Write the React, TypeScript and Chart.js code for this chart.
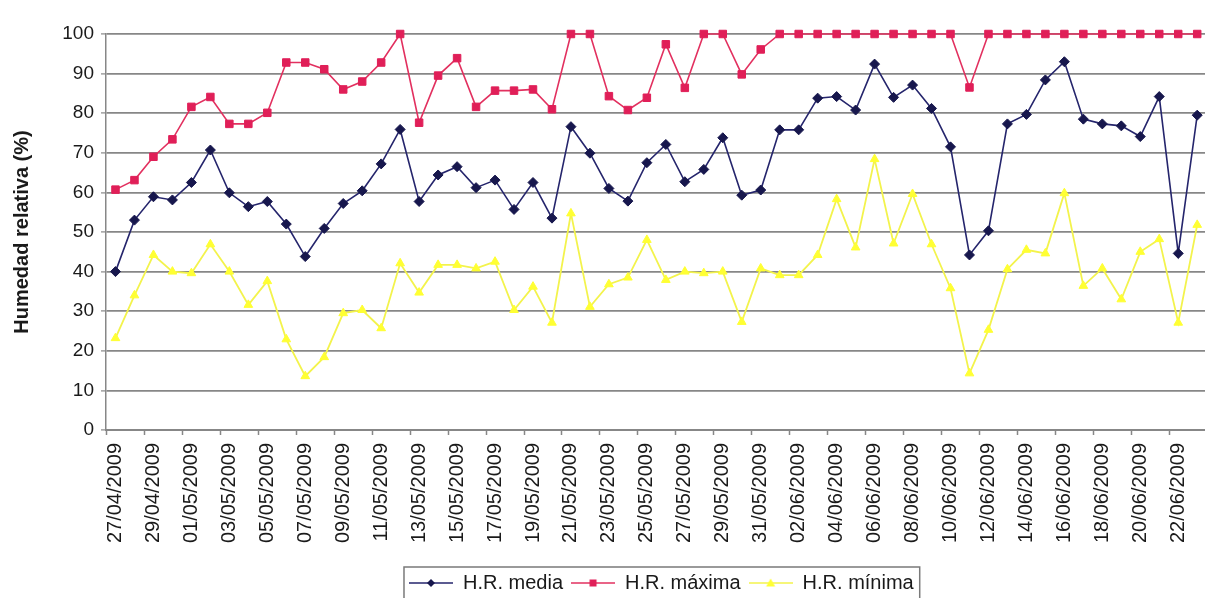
import { useEffect, useRef } from 'react';
import { Chart, registerables } from 'chart.js';

Chart.register(...registerables);

// Daily relative humidity, 27/04/2009 – 23/06/2009
const dates = [
  '27/04/2009', '28/04/2009', '29/04/2009', '30/04/2009',
  '01/05/2009', '02/05/2009', '03/05/2009', '04/05/2009', '05/05/2009', '06/05/2009',
  '07/05/2009', '08/05/2009', '09/05/2009', '10/05/2009', '11/05/2009', '12/05/2009',
  '13/05/2009', '14/05/2009', '15/05/2009', '16/05/2009', '17/05/2009', '18/05/2009',
  '19/05/2009', '20/05/2009', '21/05/2009', '22/05/2009', '23/05/2009', '24/05/2009',
  '25/05/2009', '26/05/2009', '27/05/2009', '28/05/2009', '29/05/2009', '30/05/2009',
  '31/05/2009',
  '01/06/2009', '02/06/2009', '03/06/2009', '04/06/2009', '05/06/2009', '06/06/2009',
  '07/06/2009', '08/06/2009', '09/06/2009', '10/06/2009', '11/06/2009', '12/06/2009',
  '13/06/2009', '14/06/2009', '15/06/2009', '16/06/2009', '17/06/2009', '18/06/2009',
  '19/06/2009', '20/06/2009', '21/06/2009', '22/06/2009', '23/06/2009',
];

const hrMedia = [
  40.0, 53.0, 58.9, 58.1, 62.5, 70.7, 59.9, 56.4, 57.7, 52.0, 43.8, 50.9, 57.2, 60.4, 67.2, 75.9,
  57.7, 64.4, 66.5, 61.2, 63.1, 55.7, 62.5, 53.5, 76.6, 69.9, 61.0, 57.8, 67.5, 72.1, 62.7, 65.8,
  73.8, 59.3, 60.6, 75.8, 75.8, 83.8, 84.2, 80.8, 92.4, 84.0, 87.1, 81.2, 71.5, 44.2, 50.3, 77.3,
  79.7, 88.4, 93.0, 78.5, 77.3, 76.8, 74.1, 84.2, 44.6, 79.5,
];

const hrMaxima = [
  60.7, 63.1, 69.0, 73.4, 81.6, 84.1, 77.3, 77.3, 80.1, 92.8, 92.8, 91.1, 86.0, 88.0, 92.8, 100,
  77.6, 89.5, 93.9, 81.6, 85.7, 85.7, 86.0, 81.0, 100, 100, 84.3, 80.8, 83.9, 97.4, 86.4, 100,
  100, 89.8, 96.1, 100, 100, 100, 100, 100, 100, 100, 100, 100, 100, 86.5, 100, 100,
  100, 100, 100, 100, 100, 100, 100, 100, 100, 100,
];

const hrMinima = [
  23.2, 34.0, 44.2, 40.0, 39.6, 46.9, 40.0, 31.6, 37.6, 22.9, 13.6, 18.4, 29.5, 30.3, 25.7, 42.1,
  34.7, 41.7, 41.7, 40.8, 42.5, 30.3, 36.2, 27.1, 54.7, 31.1, 36.8, 38.5, 48.0, 37.9, 40.0, 39.6,
  40.0, 27.3, 40.8, 39.1, 39.1, 44.2, 58.3, 46.1, 68.4, 47.1, 59.6, 46.9, 35.8, 14.3, 25.3, 40.6,
  45.5, 44.6, 59.8, 36.4, 40.8, 33.0, 45.0, 48.2, 27.1, 51.8,
];

const seriesNames = ['H.R. media', 'H.R. máxima', 'H.R. mínima'];

const FONT = '"Liberation Sans", Arial, Helvetica, sans-serif';
const TEXT = '#1a1a1a';
const GRID = '#878787';

const NAVY_LINE = '#25256c';
const NAVY_PT = '#17174d';
const RED_LINE = '#e2305f';
const RED_PT = '#e01f58';
const YEL_LINE = '#f3f34c';
const YEL_PT = '#ffff33';

type Marker = 'diamond' | 'square' | 'triangle';

// Small line-with-marker swatch used as a legend symbol
function legendIcon(line: string, fill: string, marker: Marker): HTMLCanvasElement {
  const c = document.createElement('canvas');
  c.width = 44;
  c.height = 14;
  const ctx = c.getContext('2d')!;
  const cx = 22;
  const cy = 7;
  ctx.strokeStyle = line;
  ctx.lineWidth = 1.6;
  ctx.beginPath();
  ctx.moveTo(0, cy);
  ctx.lineTo(44, cy);
  ctx.stroke();
  ctx.fillStyle = fill;
  ctx.beginPath();
  if (marker === 'diamond') {
    ctx.moveTo(cx, cy - 4);
    ctx.lineTo(cx + 4, cy);
    ctx.lineTo(cx, cy + 4);
    ctx.lineTo(cx - 4, cy);
    ctx.closePath();
  } else if (marker === 'square') {
    ctx.rect(cx - 3.5, cy - 3.5, 7, 7);
  } else {
    ctx.moveTo(cx, cy - 4.5);
    ctx.lineTo(cx + 4.5, cy + 3.5);
    ctx.lineTo(cx - 4.5, cy + 3.5);
    ctx.closePath();
  }
  ctx.fill();
  return c;
}

// Nudges the legend a little to the right of the plot-area centre
const legendShift = {
  id: 'legendShift',
  afterLayout(chart: any) {
    const lg = chart.legend;
    if (!lg) return;
    lg.left += 5;
    lg.right += 5;
  },
};

// Thin frame around the legend entries
const legendFrame = {
  id: 'legendFrame',
  afterDraw(chart: any) {
    const lg = chart.legend;
    if (!lg || !lg.legendHitBoxes || !lg.legendHitBoxes.length) return;
    const boxes = lg.legendHitBoxes;
    const first = boxes[0];
    const last = boxes[boxes.length - 1];
    const left = first.left - 5;
    const right = last.left + last.width + 6;
    const top = lg.top + 2;
    const bottom = lg.bottom + 4;
    const ctx = chart.ctx;
    ctx.save();
    ctx.strokeStyle = '#7a7a7a';
    ctx.lineWidth = 1.5;
    ctx.strokeRect(left, top, right - left, bottom - top);
    ctx.restore();
  },
};

// Category-axis tick marks: one at the left boundary of every labelled (even) category
const categoryTicks = {
  id: 'categoryTicks',
  afterDraw(chart: any) {
    const x = chart.scales.x;
    if (!x) return;
    const n = chart.data.labels.length;
    const half = (x.getPixelForValue(1) - x.getPixelForValue(0)) / 2;
    const ctx = chart.ctx;
    ctx.save();
    ctx.strokeStyle = GRID;
    ctx.lineWidth = 1.5;
    ctx.beginPath();
    for (let i = 0; i < n; i += 2) {
      const px = Math.round(x.getPixelForValue(i) - half) + 0.5;
      ctx.moveTo(px, x.top);
      ctx.lineTo(px, x.top + 5);
    }
    ctx.stroke();
    ctx.restore();
  },
};

export default function App() {
  const canvasRef = useRef<HTMLCanvasElement>(null);

  useEffect(() => {
    const canvas = canvasRef.current;
    if (!canvas) return;

    const icons = [
      legendIcon(NAVY_LINE, NAVY_PT, 'diamond'),
      legendIcon(RED_LINE, RED_PT, 'square'),
      legendIcon(YEL_LINE, YEL_PT, 'triangle'),
    ];

    const chart = new Chart(canvas, {
      type: 'line',
      data: {
        labels: dates,
        datasets: [
          {
            label: seriesNames[0],
            data: hrMedia,
            borderColor: NAVY_LINE,
            backgroundColor: NAVY_PT,
            borderWidth: 1.6,
            pointStyle: 'rectRot',
            pointRadius: 5,
            pointBorderWidth: 1,
            pointBackgroundColor: NAVY_PT,
            pointBorderColor: NAVY_PT,
            tension: 0,
            clip: false,
          },
          {
            label: seriesNames[1],
            data: hrMaxima,
            borderColor: RED_LINE,
            backgroundColor: RED_PT,
            borderWidth: 1.6,
            pointStyle: 'rect',
            pointRadius: 5.3,
            pointBorderWidth: 1,
            pointBackgroundColor: RED_PT,
            pointBorderColor: RED_PT,
            tension: 0,
            clip: false,
          },
          {
            label: seriesNames[2],
            data: hrMinima,
            borderColor: YEL_LINE,
            backgroundColor: YEL_PT,
            borderWidth: 1.8,
            pointStyle: 'triangle',
            pointRadius: 5,
            pointBorderWidth: 1,
            pointBackgroundColor: YEL_PT,
            pointBorderColor: YEL_PT,
            tension: 0,
            clip: false,
          },
        ],
      },
      options: {
        animation: false,
        responsive: false,
        events: [],
        layout: { padding: { top: 34, left: 0, right: 0, bottom: 0 } },
        plugins: {
          tooltip: { enabled: false },
          legend: {
            position: 'bottom',
            fullSize: false,
            labels: {
              usePointStyle: true,
              pointStyleWidth: 44,
              padding: 8,
              color: TEXT,
              font: { family: FONT, size: 20 },
              generateLabels: (c: any) => {
                const items = (Chart.defaults.plugins.legend.labels as any).generateLabels(c);
                return items.map((it: any, i: number) => ({ ...it, pointStyle: icons[i], fontColor: TEXT }));
              },
            },
          },
        },
        scales: {
          x: {
            type: 'category',
            offset: true,
            afterFit: (scale: any) => {
              scale.height = 135;
            },
            grid: {
              display: true,
              drawOnChartArea: false,
              tickLength: 5,
              tickColor: 'rgba(0,0,0,0)',
            },
            border: { display: true, color: GRID, width: 2 },
            ticks: {
              autoSkip: false,
              minRotation: 90,
              maxRotation: 90,
              padding: 8,
              color: TEXT,
              font: { family: FONT, size: 20 },
              callback: (_v: any, i: number) => (i % 2 === 0 ? dates[i] : null),
            },
          },
          y: {
            min: 0,
            max: 100,
            afterFit: (scale: any) => {
              scale.width = 106;
            },
            grid: {
              color: GRID,
              lineWidth: 1.8,
              tickLength: 5,
              tickWidth: 1.2,
              tickColor: GRID,
            },
            border: { display: true, color: GRID, width: 1.5 },
            ticks: {
              stepSize: 10,
              padding: 7,
              color: TEXT,
              font: { family: FONT, size: 19 },
            },
            title: {
              display: true,
              text: 'Humedad relativa (%)',
              color: TEXT,
              font: { family: FONT, size: 20, weight: 'bold' },
              padding: { top: 10, bottom: 0 },
            },
          },
        },
      },
      plugins: [legendShift, legendFrame, categoryTicks],
    } as any);

    return () => chart.destroy();
  }, []);

  return (
    <div
      style={{
        position: 'fixed',
        left: 0,
        top: 0,
        width: 1205,
        height: 598,
        overflow: 'hidden',
        background: '#ffffff',
      }}
    >
      <canvas
        ref={canvasRef}
        width={1213}
        height={603}
        style={{ display: 'block', width: 1213, height: 603 }}
      />
    </div>
  );
}
